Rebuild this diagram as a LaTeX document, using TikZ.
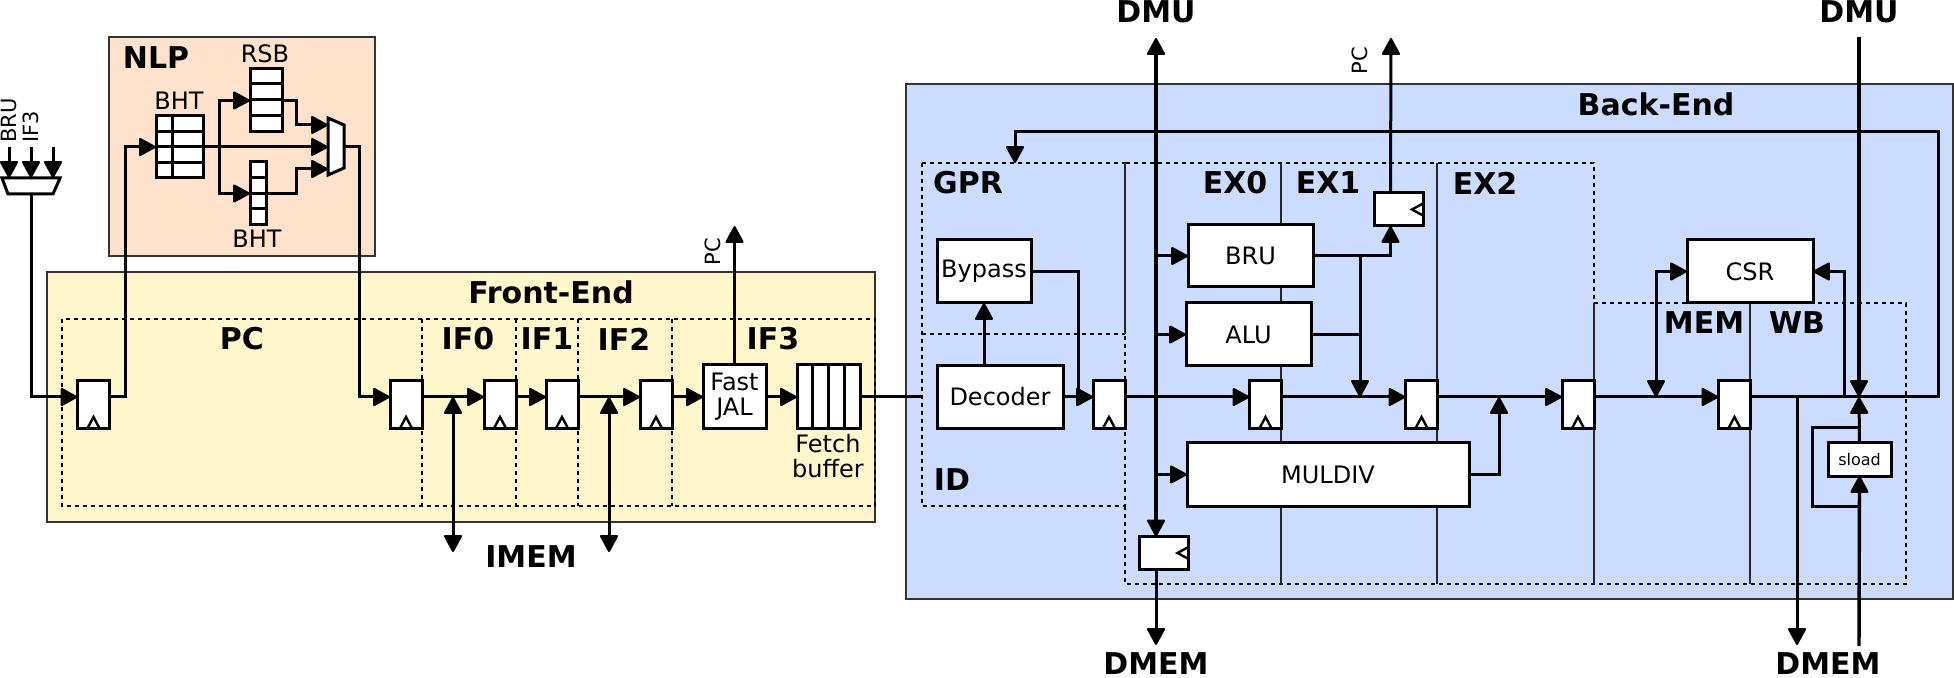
\documentclass[tikz,border=0pt]{standalone}
\usepackage{fontspec}
\setmainfont{DejaVu Sans}
\usetikzlibrary{arrows.meta}
\definecolor{nlpfill}{HTML}{FFE2CB}
\definecolor{frontfill}{HTML}{FFF6CC}
\definecolor{backfill}{HTML}{CBDCFE}
\tikzset{
  region/.style={draw=black!80,line width=0.6pt,inner sep=0pt,outer sep=0pt},
  stage/.style={draw=black,line width=0.55pt,dash pattern=on 2.2pt off 1.8pt},
  stagesep/.style={draw=black!85,line width=0.55pt},
  block/.style={draw=black,fill=white,line width=1.5pt,inner sep=0pt,outer sep=0pt,
                font=\fontsize{12}{12.5}\selectfont,align=center},
  ffbox/.style={block,minimum width=16pt,minimum height=24pt,
    path picture={\draw[line width=1.2pt]
      ([xshift=-3.2pt]path picture bounding box.south)
      -- ([yshift=6pt]path picture bounding box.south)
      -- ([xshift=3.2pt]path picture bounding box.south);}},
  ffside/.style={block,minimum width=24.5pt,minimum height=16.5pt,
    path picture={\draw[line width=1.2pt]
      ([yshift=3pt]path picture bounding box.east)
      -- ([xshift=-5.5pt]path picture bounding box.east)
      -- ([yshift=-3pt]path picture bounding box.east);}},
  wire/.style={line width=1.5pt},
  bus/.style={line width=1.7pt},
  muxshape/.style={draw=black,fill=white,line width=1.5pt,line join=miter},
  boldlbl/.style={inner sep=0pt,font=\bfseries\fontsize{15}{17}\selectfont},
  smalllbl/.style={inner sep=0pt,font=\fontsize{12}{12.5}\selectfont,align=center},
  sidelbl/.style={inner sep=0pt,font=\fontsize{10.5}{13}\selectfont,rotate=90},
}
\begin{document}
\begin{tikzpicture}[x=0.5pt,y=-0.5pt,>={Triangle[length=9pt,width=9.5pt,line width=1pt,round]}]
  \useasboundingbox (0,0) rectangle (1954,678);
  % draw regions
  \node[region,fill=nlpfill,minimum width=133pt,minimum height=109.5pt] (nlp) at (242,146.5) {};
  \node[region,fill=frontfill,minimum width=414pt,minimum height=125pt] (front) at (461,397) {};
  \node[region,fill=backfill,minimum width=523.5pt,minimum height=257.5pt] (back) at (1429.5,341.5) {};
  % draw stages
  \draw[stage] (62,319) rectangle (875,506);
  \foreach \sx in {422,516,578,672}
    \draw[stage] (\sx,319) -- (\sx,506);
  \draw[stage] (922,163) rectangle (1125,506);
  \draw[stage] (922,334) -- (1125,334);
  \draw[stage] (1125,506) -- (1125,584) -- (1906,584) -- (1906,303) -- (1594,303) -- (1594,163) -- (1125,163);
  \draw[stagesep] (1125,163) -- (1125,334);
  \foreach \sx in {1281,1437}
    \draw[stagesep] (\sx,163) -- (\sx,584);
  \foreach \sx in {1594,1750}
    \draw[stagesep] (\sx,303) -- (\sx,584);
  % draw registers
  \foreach \fname/\fx in {ffpc/93.5,ffifa/406,ffifb/500,ffifc/562,ffifd/656,
                          ffid/1109,ffexa/1265.5,ffexb/1421.5,ffexc/1578,ffmem/1734.5} {
    \node[ffbox] (\fname) at (\fx,405) {};
    \coordinate (\fname i) at ([yshift=4pt]\fname.west);
    \coordinate (\fname o) at ([yshift=4pt]\fname.east);
  }
  \node[ffside] (ffpcx) at (1398.5,209.5) {};
  \node[ffside] (ffdmem) at (1164,553) {};
  % draw NLP tables
  \node[block,minimum width=16pt,minimum height=31.5pt] (rsb) at (266,100.5) {};
  \foreach \ry in {84,100,116}
    \draw[wire] (rsb.west |- 0,\ry) -- (rsb.east |- 0,\ry);
  \node[block,minimum width=23.5pt,minimum height=31pt] (bht) at (179.5,147) {};
  \foreach \ry in {132,147,163}
    \draw[wire] (bht.west |- 0,\ry) -- (bht.east |- 0,\ry);
  \draw[wire] (172,116) -- (172,178);
  \node[block,minimum width=8pt,minimum height=31.5pt] (bhtb) at (258,193.5) {};
  \foreach \ry in {178,194,209}
    \draw[wire] (bhtb.west |- 0,\ry) -- (bhtb.east |- 0,\ry);
  % draw muxes
  \draw[muxshape] (2,178) -- (60,178) -- (53,194) -- (8,194) -- cycle;
  \draw[muxshape] (328,118) -- (344,125) -- (344,168) -- (328,175) -- cycle;
  \coordinate (inmuxtop) at (31,178);
  \coordinate (inmuxbot) at (31,194);
  \coordinate (nlpmuxout) at (344,147);
  % draw blocks
  \node[block,minimum width=31.5pt,minimum height=32pt] (fastjal) at (734.5,397) {Fast\\JAL};
  \node[block,minimum width=31.5pt,minimum height=32pt] (fetchbuf) at (828.5,397) {};
  \foreach \bx in {812,828,844}
    \draw[wire] (\bx,365) -- (\bx,429);
  \node[block,minimum width=47pt,minimum height=31.5pt] (bypass) at (984,271.5) {Bypass};
  \node[block,minimum width=63pt,minimum height=31.5pt] (decoder) at (1000,397) {Decoder};
  \node[block,minimum width=62.5pt,minimum height=31pt] (bru) at (1250.5,256) {BRU};
  \node[block,minimum width=62.5pt,minimum height=31.5pt] (alu) at (1248.5,334.5) {ALU};
  \node[block,minimum width=141pt,minimum height=31.5pt] (muldiv) at (1328,474.5) {MULDIV};
  \node[block,minimum width=63pt,minimum height=31.5pt] (csr) at (1750,271.5) {CSR};
  \node[block,minimum width=31.5pt,minimum height=16.5pt,font=\fontsize{8}{10}\selectfont] (sload) at (1859.5,459.5) {sload};
  % free wire ends
  \coordinate (bruin) at (9,147);
  \coordinate (ifthreein) at (31,147);
  \coordinate (thirdin) at (53,147);
  \coordinate (nlpin) at (125,147);
  \coordinate (bhtsplit) at (219,147);
  \coordinate (muxjog) at (296,147);
  \coordinate (muxa) at (328,125);
  \coordinate (muxb) at (328,147);
  \coordinate (muxc) at (328,169);
  \coordinate (muxout) at (359,147);
  \coordinate (imema) at (453,397);
  \coordinate (imemb) at (453,552);
  \coordinate (imemc) at (609,397);
  \coordinate (imemd) at (609,552);
  \coordinate (pcfront) at (734.5,226);
  \coordinate (idedge) at (922,397);
  \coordinate (bypdown) at (1078,397);
  \coordinate (dmutop) at (1156,38);
  \coordinate (dmembot) at (1156,645);
  \coordinate (pcback) at (1391,38);
  \coordinate (exsplit) at (1360,256);
  \coordinate (muljoin) at (1499,397);
  \coordinate (csrl) at (1656,397);
  \coordinate (csrr) at (1844,397);
  \coordinate (wbtap) at (1797,397);
  \coordinate (dmemb) at (1797,645);
  \coordinate (dmub) at (1859,37);
  \coordinate (wbjoin) at (1859,397);
  \coordinate (dmemin) at (1859,646);
  \coordinate (sltop) at (1859,428);
  \coordinate (slcorner) at (1812,428);
  \coordinate (slbot) at (1859,506);
  \coordinate (loopa) at (1938,397);
  \coordinate (loopb) at (1015,132);
  \coordinate (gprin) at (1015,163);
  % draw NLP wires
  \foreach \wa in {bruin,ifthreein,thirdin}
    \draw[wire,->] (\wa) -- (\wa |- inmuxtop);
  \draw[wire,->] (inmuxbot) |- (ffpci);
  \draw[wire,->] (ffpco) -| (nlpin) -- (bht.west);
  \draw[wire,->] (bht.east) -- (muxb);
  \draw[wire,->] (bhtsplit) |- (rsb.west);
  \draw[wire,->] (bhtsplit) |- (bhtb.west);
  \draw[wire,->] (rsb.east) -- (rsb.east -| muxjog) |- (muxa);
  \draw[wire,->] (bhtb.east) -- (bhtb.east -| muxjog) |- (muxc);
  \draw[wire,->] (nlpmuxout) -- (muxout) |- (ffifai);
  % draw front-end wires
  \draw[wire,->] (ffifao) -- (ffifbi);
  \draw[wire,->] (ffifbo) -- (ffifci);
  \draw[wire,->] (ffifco) -- (ffifdi);
  \draw[wire,->] (ffifdo) -- (fastjal.west);
  \draw[wire,->] (fastjal.east) -- (fetchbuf.west);
  \draw[wire] (fetchbuf.east) -- (idedge);
  \draw[wire,->] (fastjal.north) -- (pcfront);
  \draw[wire,<->] (imema) -- (imemb);
  \draw[wire,<->] (imemc) -- (imemd);
  % draw back-end wires
  \draw[wire,->] (decoder.north -| bypass.south) -- (bypass.south);
  \draw[wire,->] (bypass.east) -| (bypdown) -- (ffidi);
  \draw[wire,->] (decoder.east) -- (ffidi);
  \draw[wire,->] (ffido) -- (ffexai);
  \draw[wire,->] (ffexao) -- (ffexbi);
  \draw[wire,->] (ffexbo) -- (ffexci);
  \draw[wire,->] (ffexco) -- (ffmemi);
  \draw[wire,->] (ffmemo) -- (loopa) |- (loopb) -- (gprin);
  \draw[bus,<->] (dmutop) -- ([xshift=-4pt]ffdmem.north);
  \draw[wire,->] ([xshift=-4pt]ffdmem.south) -- (dmembot);
  \draw[wire,->] (dmutop |- bru.west) -- (bru.west);
  \draw[wire,->] (dmutop |- alu.west) -- (alu.west);
  \draw[wire,->] (dmutop |- muldiv.west) -- (muldiv.west);
  \draw[wire,->] (bru.east) -| ([xshift=-4pt]ffpcx.south);
  \draw[wire,->] ([xshift=-4pt]ffpcx.north) -- (pcback);
  \draw[wire,->] (exsplit) -- (exsplit |- ffexao);
  \draw[wire] (alu.east) -- (alu.east -| exsplit);
  \draw[wire,->] (muldiv.east) -| (muljoin);
  \draw[wire,<->] (csrl) |- (csr.west);
  \draw[wire,->] (csrr) |- (csr.east);
  \draw[wire,->] (wbtap) -- (dmemb);
  \draw[bus,->] (dmub) -- (wbjoin);
  \draw[bus,->] (dmemin) -- (sload.south);
  \draw[wire,->] (sload.north) -- (wbjoin);
  \draw[wire] (sltop) -- (slcorner) |- (slbot);
  % draw labels
  \node[boldlbl] (nlplbl) at (156,58) {NLP};
  \node[boldlbl] (frontlbl) at (551,292) {Front-End};
  \node[boldlbl] (backlbl) at (1656,104) {Back-End};
  \node[boldlbl] (pclbl) at (242,339) {PC};
  \node[boldlbl] (ifalbl) at (468,339) {IF0};
  \node[boldlbl] (ifblbl) at (547,339) {IF1};
  \node[boldlbl] (ifclbl) at (624,339) {IF2};
  \node[boldlbl] (ifdlbl) at (773,339) {IF3};
  \node[boldlbl] (gprlbl) at (968,183) {GPR};
  \node[boldlbl] (idlbl) at (952,480) {ID};
  \node[boldlbl] (exalbl) at (1235,183) {EX0};
  \node[boldlbl] (exblbl) at (1328,183) {EX1};
  \node[boldlbl] (exclbl) at (1485,183) {EX2};
  \node[boldlbl] (memlbl) at (1704,323) {MEM};
  \node[boldlbl] (wblbl) at (1797,323) {WB};
  \node[boldlbl] (imemlbl) at (531,557) {IMEM};
  \node[boldlbl] (dmualbl) at (1156,12) {DMU};
  \node[boldlbl] (dmublbl) at (1859,12) {DMU};
  \node[boldlbl] (dmemalbl) at (1156,664) {DMEM};
  \node[boldlbl] (dmemblbl) at (1828,664) {DMEM};
  \node[smalllbl] (rsblbl) at (265,54) {RSB};
  \node[smalllbl] (bhtlbl) at (179,101) {BHT};
  \node[smalllbl] (bhtblbl) at (257,239) {BHT};
  \node[smalllbl] (fetchlbl) at (828,456.5) {Fetch\\buffer};
  \node[sidelbl,anchor=west] (brulbl) at (9,143) {BRU};
  \node[sidelbl,anchor=west] (iflbl) at (31,143) {IF3};
  \node[sidelbl] (pcalbl) at (713,252) {PC};
  \node[sidelbl] (pcblbl) at (1360,61) {PC};
\end{tikzpicture}
\end{document}
